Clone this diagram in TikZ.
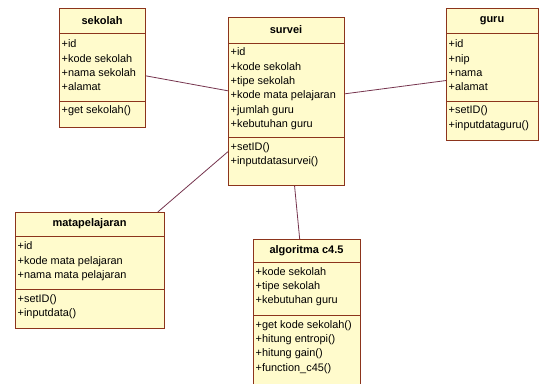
\documentclass[tikz,border=0pt]{standalone}
\usepackage{fontspec}
\setmainfont{Liberation Sans}
\usepackage{tikz}
\usetikzlibrary{positioning}

\definecolor{umlfill}{RGB}{255,251,204}
\definecolor{umledge}{RGB}{140,52,28}
\definecolor{umlassoc}{RGB}{118,52,78}

\begin{document}
\begin{tikzpicture}[x=1pt, y=-1pt,
        umlbox/.style={draw=umledge, fill=umlfill, line width=0.9pt, anchor=north west, inner sep=0pt},
        umlline/.style={draw=umledge, line width=0.9pt},
        umltitle/.style={font=\fontsize{11}{13}\selectfont\bfseries, inner sep=0pt},
        umltext/.style={anchor=north west, align=left, inner xsep=2.5pt, inner ysep=2.5pt,
            font=\fontsize{10.9}{14.4}\selectfont},
        assoc/.style={draw=umlassoc, line width=0.8pt}]
        \clip (0,0) rectangle (540,383);
        \fill[white] (0,0) rectangle (540,383);

        % sekolah
        \node[umlbox, minimum width=86pt, minimum height=119pt] (sekolah) at (59,8) {};
        \node[umltitle] (sekolah-name) at (102,20.5) {sekolah};
        \draw[umlline] (sekolah.west |- 0,33) -- (sekolah.east |- 0,33);
        \draw[umlline] (sekolah.west |- 0,101) -- (sekolah.east |- 0,101);
        \node[umltext] (sekolah-attr) at (59,37) {+id\\+kode sekolah\\+nama sekolah\\+alamat};
        \node[umltext] (sekolah-ops) at (59,103) {+get sekolah()};

        % survei
        \node[umlbox, minimum width=116pt, minimum height=168pt] (survei) at (228,17) {};
        \node[umltitle] (survei-name) at (286,30) {survei};
        \draw[umlline] (survei.west |- 0,43) -- (survei.east |- 0,43);
        \draw[umlline] (survei.west |- 0,137) -- (survei.east |- 0,137);
        \node[umltext] (survei-attr) at (228,45) {+id\\+kode sekolah\\+tipe sekolah\\+kode mata pelajaran\\+jumlah guru\\+kebutuhan guru};
        \node[umltext] (survei-ops) at (228,139.5) {+setID()\\+inputdatasurvei()};

        % guru
        \node[umlbox, minimum width=92pt, minimum height=132pt] (guru) at (446,8) {};
        \node[umltitle] (guru-name) at (492,20.5) {guru};
        \draw[umlline] (guru.west |- 0,33) -- (guru.east |- 0,33);
        \draw[umlline] (guru.west |- 0,101) -- (guru.east |- 0,101);
        \node[umltext] (guru-attr) at (446,37) {+id\\+nip\\+nama\\+alamat};
        \node[umltext] (guru-ops) at (446,103) {+setID()\\+inputdataguru()};

        % matapelajaran
        \node[umlbox, minimum width=149pt, minimum height=116pt] (matapelajaran) at (15,212) {};
        \node[umltitle] (matapelajaran-name) at (89.5,224) {matapelajaran};
        \draw[umlline] (matapelajaran.west |- 0,236) -- (matapelajaran.east |- 0,236);
        \draw[umlline] (matapelajaran.west |- 0,289) -- (matapelajaran.east |- 0,289);
        \node[umltext] (matapelajaran-attr) at (15,239) {+id\\+kode mata pelajaran\\+nama mata pelajaran};
        \node[umltext] (matapelajaran-ops) at (15,291.5) {+setID()\\+inputdata()};

        % algoritma c4.5
        \node[umlbox, minimum width=107pt, minimum height=151pt] (algoritma) at (253,239) {};
        \node[umltitle] (algoritma-name) at (306.5,250.5) {algoritma c4.5};
        \draw[umlline] (algoritma.west |- 0,262) -- (algoritma.east |- 0,262);
        \draw[umlline] (algoritma.west |- 0,315) -- (algoritma.east |- 0,315);
        \node[umltext] (algoritma-attr) at (253,264.5) {+kode sekolah\\+tipe sekolah\\+kebutuhan guru};
        \node[umltext] (algoritma-ops) at (253,317.5) {+get kode sekolah()\\+hitung entropi()\\+hitung gain()\\+function\_c45()};

        \draw[assoc] (sekolah) -- (survei);
        \draw[assoc] (survei) -- (guru);
        \draw[assoc] (survei) -- (matapelajaran);
        \draw[assoc] (survei) -- (algoritma);
    \end{tikzpicture}
\end{document}
